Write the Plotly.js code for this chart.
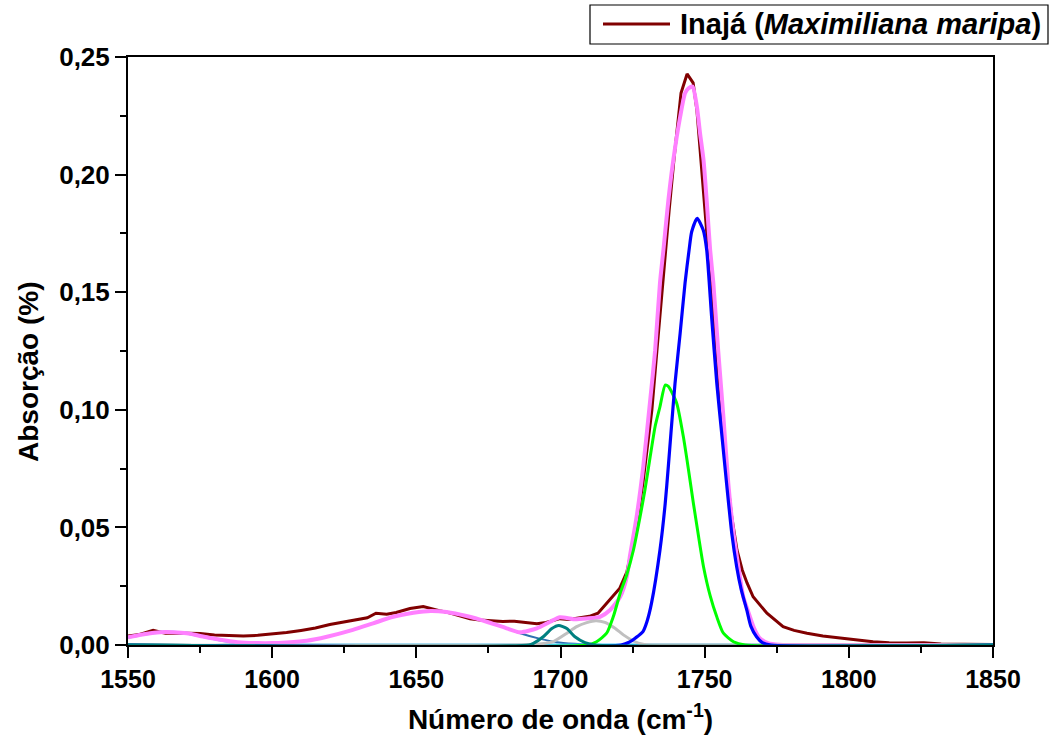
<!DOCTYPE html>
<html>
<head>
<meta charset="utf-8">
<script src="https://cdn.plot.ly/plotly-3.0.1.min.js"></script>
<style>
  html, body { margin: 0; padding: 0; background: #fff; }
  #chart { width: 1056px; height: 745px; }
</style>
</head>
<body>
<div id="chart"></div>
<script>
// Measured FTIR spectrum of Inajá oil (carbonyl region)
const wn_inaja = [1550,1554,1558.7,1563,1567,1571,1575,1580,1585,1590,1595,1600,1605,1610,1615,1620,1625,1630,1633,1636,1639.7,1643,1647.8,1652.4,1655,1658,1661.7,1665,1668.6,1672,1676,1680,1684,1687,1691.8,1695,1699.8,1703,1706.8,1710,1713,1716.5,1720.5,1723,1725.9,1728.6,1731.7,1733.5,1735.3,1736.6,1737.7,1739.4,1741.8,1743.9,1746,1747.3,1748.4,1749.8,1751.2,1754.2,1756.7,1759.4,1761.2,1763,1764.7,1766.8,1771.6,1777.2,1781,1785.5,1791,1797,1803,1808.4,1814,1820,1826,1832,1840,1850];
const abs_inaja = [0.0038,0.0045,0.0062,0.0050,0.0051,0.0050,0.0049,0.0043,0.0039,0.0038,0.0041,0.0046,0.0053,0.0062,0.0072,0.0087,0.0098,0.0108,0.0116,0.0135,0.0131,0.0138,0.0155,0.0164,0.0155,0.0146,0.0136,0.0124,0.0112,0.0106,0.0103,0.0100,0.0101,0.0097,0.0090,0.0096,0.0112,0.0108,0.0115,0.0122,0.0135,0.0185,0.024,0.031,0.0476,0.069,0.100,0.126,0.152,0.169,0.185,0.207,0.2347,0.2428,0.239,0.2275,0.2105,0.189,0.168,0.125,0.083,0.0544,0.0404,0.032,0.0264,0.0205,0.0135,0.0078,0.0062,0.005,0.0038,0.003,0.0022,0.0014,0.001,0.0008,0.001,0.0004,0.0003,0.0002];

// Cumulative fitted curve
const wn_fit = [1550,1555,1559,1563,1567,1571,1576,1582,1588,1595,1600,1605,1612,1619,1628,1635,1642,1649,1655,1660.5,1667.4,1674.4,1681.3,1686,1691.8,1696.4,1699.8,1704.5,1709.1,1713.7,1717.2,1720.7,1723,1724.1,1726.4,1728.7,1731.1,1732.8,1734.5,1735.7,1737.4,1739.1,1741.5,1743.2,1744.4,1745.8,1747.3,1748.4,1749.6,1750.7,1751.9,1753,1754.7,1756.5,1758.2,1760,1761.7,1763.4,1765,1767,1769,1772,1776,1780,1850];
const abs_fit = [0.0033,0.0045,0.0052,0.0055,0.0053,0.0049,0.0036,0.0022,0.0012,0.0008,0.0008,0.0011,0.0018,0.0035,0.0064,0.0092,0.0120,0.0137,0.0145,0.0140,0.0123,0.0099,0.0071,0.0054,0.0071,0.0099,0.0118,0.0110,0.0113,0.0120,0.0149,0.0205,0.029,0.038,0.0545,0.0758,0.104,0.125,0.154,0.168,0.189,0.206,0.2246,0.2346,0.2367,0.2374,0.2289,0.2176,0.2062,0.189,0.168,0.154,0.125,0.097,0.0687,0.0475,0.0333,0.0205,0.0145,0.0075,0.003,0.0008,0.0001,0,0];

// Deconvoluted bands
const wn_band1565 = [1550,1555,1559,1563,1567,1571,1576,1582,1588,1594,1600,1850];
const abs_band1565 = [0.0033,0.0045,0.0052,0.0055,0.0053,0.0049,0.0036,0.0021,0.0009,0.0003,0,0];

const wn_band1655 = [1550,1580,1590,1596,1605,1612,1619,1628,1635,1642,1649,1654.7,1660.5,1667.4,1674.4,1681.3,1686,1693,1698.7,1705,1712,1850];
const abs_band1655 = [0,0,0.0003,0.0005,0.001,0.0018,0.0035,0.0064,0.0092,0.012,0.0137,0.0145,0.014,0.0123,0.0099,0.0071,0.005,0.0026,0.0012,0.0005,0,0];

const wn_band1699 = [1550,1689,1690.6,1694,1697,1699.4,1702.2,1705,1708.5,1712,1850];
const abs_band1699 = [0,0,0.0007,0.0035,0.007,0.0083,0.007,0.0035,0.001,0,0];

const wn_band1712 = [1550,1690,1695,1697.5,1702.2,1705.6,1709.1,1712.3,1715.4,1718.9,1721.8,1725.3,1728.6,1732,1850];
const abs_band1712 = [0,0.0002,0.0008,0.0014,0.005,0.0078,0.0095,0.0103,0.0096,0.0071,0.0043,0.0017,0.0003,0,0];

const wn_band1737 = [1550,1709,1712.5,1716,1718.3,1720.7,1723,1725.3,1727.6,1729.3,1731.1,1732.8,1734.5,1736.3,1737.4,1740.3,1742.6,1744.4,1746.1,1747.9,1749.6,1751.9,1754.2,1756.5,1760,1764,1850];
const abs_band1737 = [0,0,0.0014,0.005,0.012,0.022,0.030,0.0404,0.0545,0.066,0.080,0.0928,0.1013,0.1105,0.110,0.1028,0.0886,0.0744,0.0602,0.046,0.0333,0.021,0.012,0.005,0.0014,0,0];

const wn_band1747 = [1550,1721,1724,1726,1728.6,1730,1731.6,1734.5,1736.3,1737.4,1738.3,1739.7,1741.5,1743.2,1744.6,1745.5,1747.4,1749.5,1750.7,1752.4,1754.2,1755.9,1757.6,1759.4,1761.1,1762.6,1764.6,1766,1768,1770,1773,1850];
const abs_band1747 = [0,0,0.0013,0.003,0.0057,0.010,0.018,0.0404,0.060,0.076,0.090,0.111,0.1326,0.154,0.168,0.1757,0.1814,0.1764,0.168,0.1396,0.1113,0.090,0.0687,0.0475,0.0333,0.024,0.0149,0.008,0.0035,0.001,0,0];

const xTickVals = [1550,1600,1650,1700,1750,1800,1850];
const yTickVals = [0,0.05,0.10,0.15,0.20,0.25];
const seriesName = 'Inajá (<i>Maximiliana maripa</i>)';
const xTitle = 'Número de onda (cm<sup>-1</sup>)';
const yTitle = 'Absorção (%)';

const FONT = 'Liberation Sans, Arial, Helvetica, sans-serif';

function band(x, y, color, width) {
  return {
    x: x, y: y, type: 'scatter', mode: 'lines',
    line: {color: color, width: width, shape: 'spline', smoothing: 0.6},
    showlegend: false, hoverinfo: 'skip'
  };
}

const traces = [
  {
    x: wn_inaja, y: abs_inaja, type: 'scatter', mode: 'lines', name: seriesName,
    line: {color: '#800000', width: 3}, showlegend: false
  },
  band(wn_band1655, abs_band1655, '#3070b0', 2),
  band(wn_band1565, abs_band1565, '#40c8ff', 3),
  band(wn_fit, abs_fit, '#ff80ff', 4),
  band(wn_band1712, abs_band1712, '#c0c0c0', 3),
  band(wn_band1737, abs_band1737, '#00ff00', 3),
  band(wn_band1747, abs_band1747, '#0000ff', 3.2),
  band(wn_band1699, abs_band1699, '#008080', 3)
];

// Pixel-to-paper helpers (plot area spans 128..993 horizontally, 57..645 vertically)
const px = v => (v - 128) / 865;
const py = v => (645 - v) / 588;

const layout = {
  width: 1056, height: 745,
  margin: {l: 128, r: 63, t: 57, b: 100},
  paper_bgcolor: '#fff', plot_bgcolor: '#fff',
  separators: ', ',
  font: {family: FONT, color: '#000'},
  showlegend: false,
  xaxis: {
    range: [1550, 1850], tickvals: xTickVals, ticktext: xTickVals.map(String),
    ticks: 'outside', ticklen: 11, tickwidth: 2, tickcolor: '#000',
    minor: {dtick: 25, tick0: 1550, ticks: 'outside', ticklen: 6, tickwidth: 2, tickcolor: '#000'},
    showline: true, linewidth: 2, linecolor: '#000', mirror: true,
    showgrid: false, zeroline: false,
    tickfont: {family: FONT, size: 25, weight: 'bold'},
    title: {text: xTitle, font: {family: FONT, size: 28, weight: 'bold'}, standoff: 17}
  },
  xaxis2: {
    overlaying: 'x', side: 'top', anchor: 'y', range: [1550, 1850],
    tick0: 1550, dtick: 60, ticks: 'inside', ticklen: 10, tickwidth: 2, tickcolor: '#000',
    minor: {dtick: 30, tick0: 1550, ticks: 'inside', ticklen: 5, tickwidth: 2, tickcolor: '#000'},
    showticklabels: false, showgrid: false, zeroline: false, showline: false
  },
  yaxis: {
    range: [0, 0.25], tickvals: yTickVals, tickformat: '.2f',
    ticks: 'outside', ticklen: 11, tickwidth: 2, tickcolor: '#000',
    minor: {dtick: 0.025, tick0: 0, ticks: 'outside', ticklen: 6, tickwidth: 2, tickcolor: '#000'},
    showline: true, linewidth: 2, linecolor: '#000', mirror: true,
    showgrid: false, zeroline: false,
    tickfont: {family: FONT, size: 26, weight: 'bold'}
  },
  yaxis2: {
    overlaying: 'y', side: 'right', anchor: 'x', range: [0, 0.25],
    tick0: 0, dtick: 0.05, ticks: 'inside', ticklen: 10, tickwidth: 2, tickcolor: '#000',
    minor: {dtick: 0.025, tick0: 0, ticks: 'inside', ticklen: 5, tickwidth: 2, tickcolor: '#000'},
    showticklabels: false, showgrid: false, zeroline: false, showline: false
  },
  shapes: [
    {type: 'rect', xref: 'paper', yref: 'paper', x0: px(590), x1: px(1048), y0: py(44), y1: py(5),
     line: {color: '#000', width: 1.2}, fillcolor: '#fff'},
    {type: 'line', xref: 'paper', yref: 'paper', x0: px(603), x1: px(670), y0: py(24), y1: py(24),
     line: {color: '#800000', width: 3}}
  ],
  annotations: [
    {xref: 'paper', yref: 'paper', x: px(678), y: py(24), xanchor: 'left', yanchor: 'middle',
     text: seriesName, showarrow: false,
     font: {family: FONT, size: 29, weight: 'bold', color: '#000'}},
    {xref: 'paper', yref: 'paper', x: px(28), y: py(372), xanchor: 'center', yanchor: 'middle',
     text: yTitle, textangle: -90, showarrow: false,
     font: {family: FONT, size: 28, weight: 'bold', color: '#000'}}
  ]
};

Plotly.newPlot('chart', traces, layout, {staticPlot: true, displayModeBar: false});
</script>
</body>
</html>
